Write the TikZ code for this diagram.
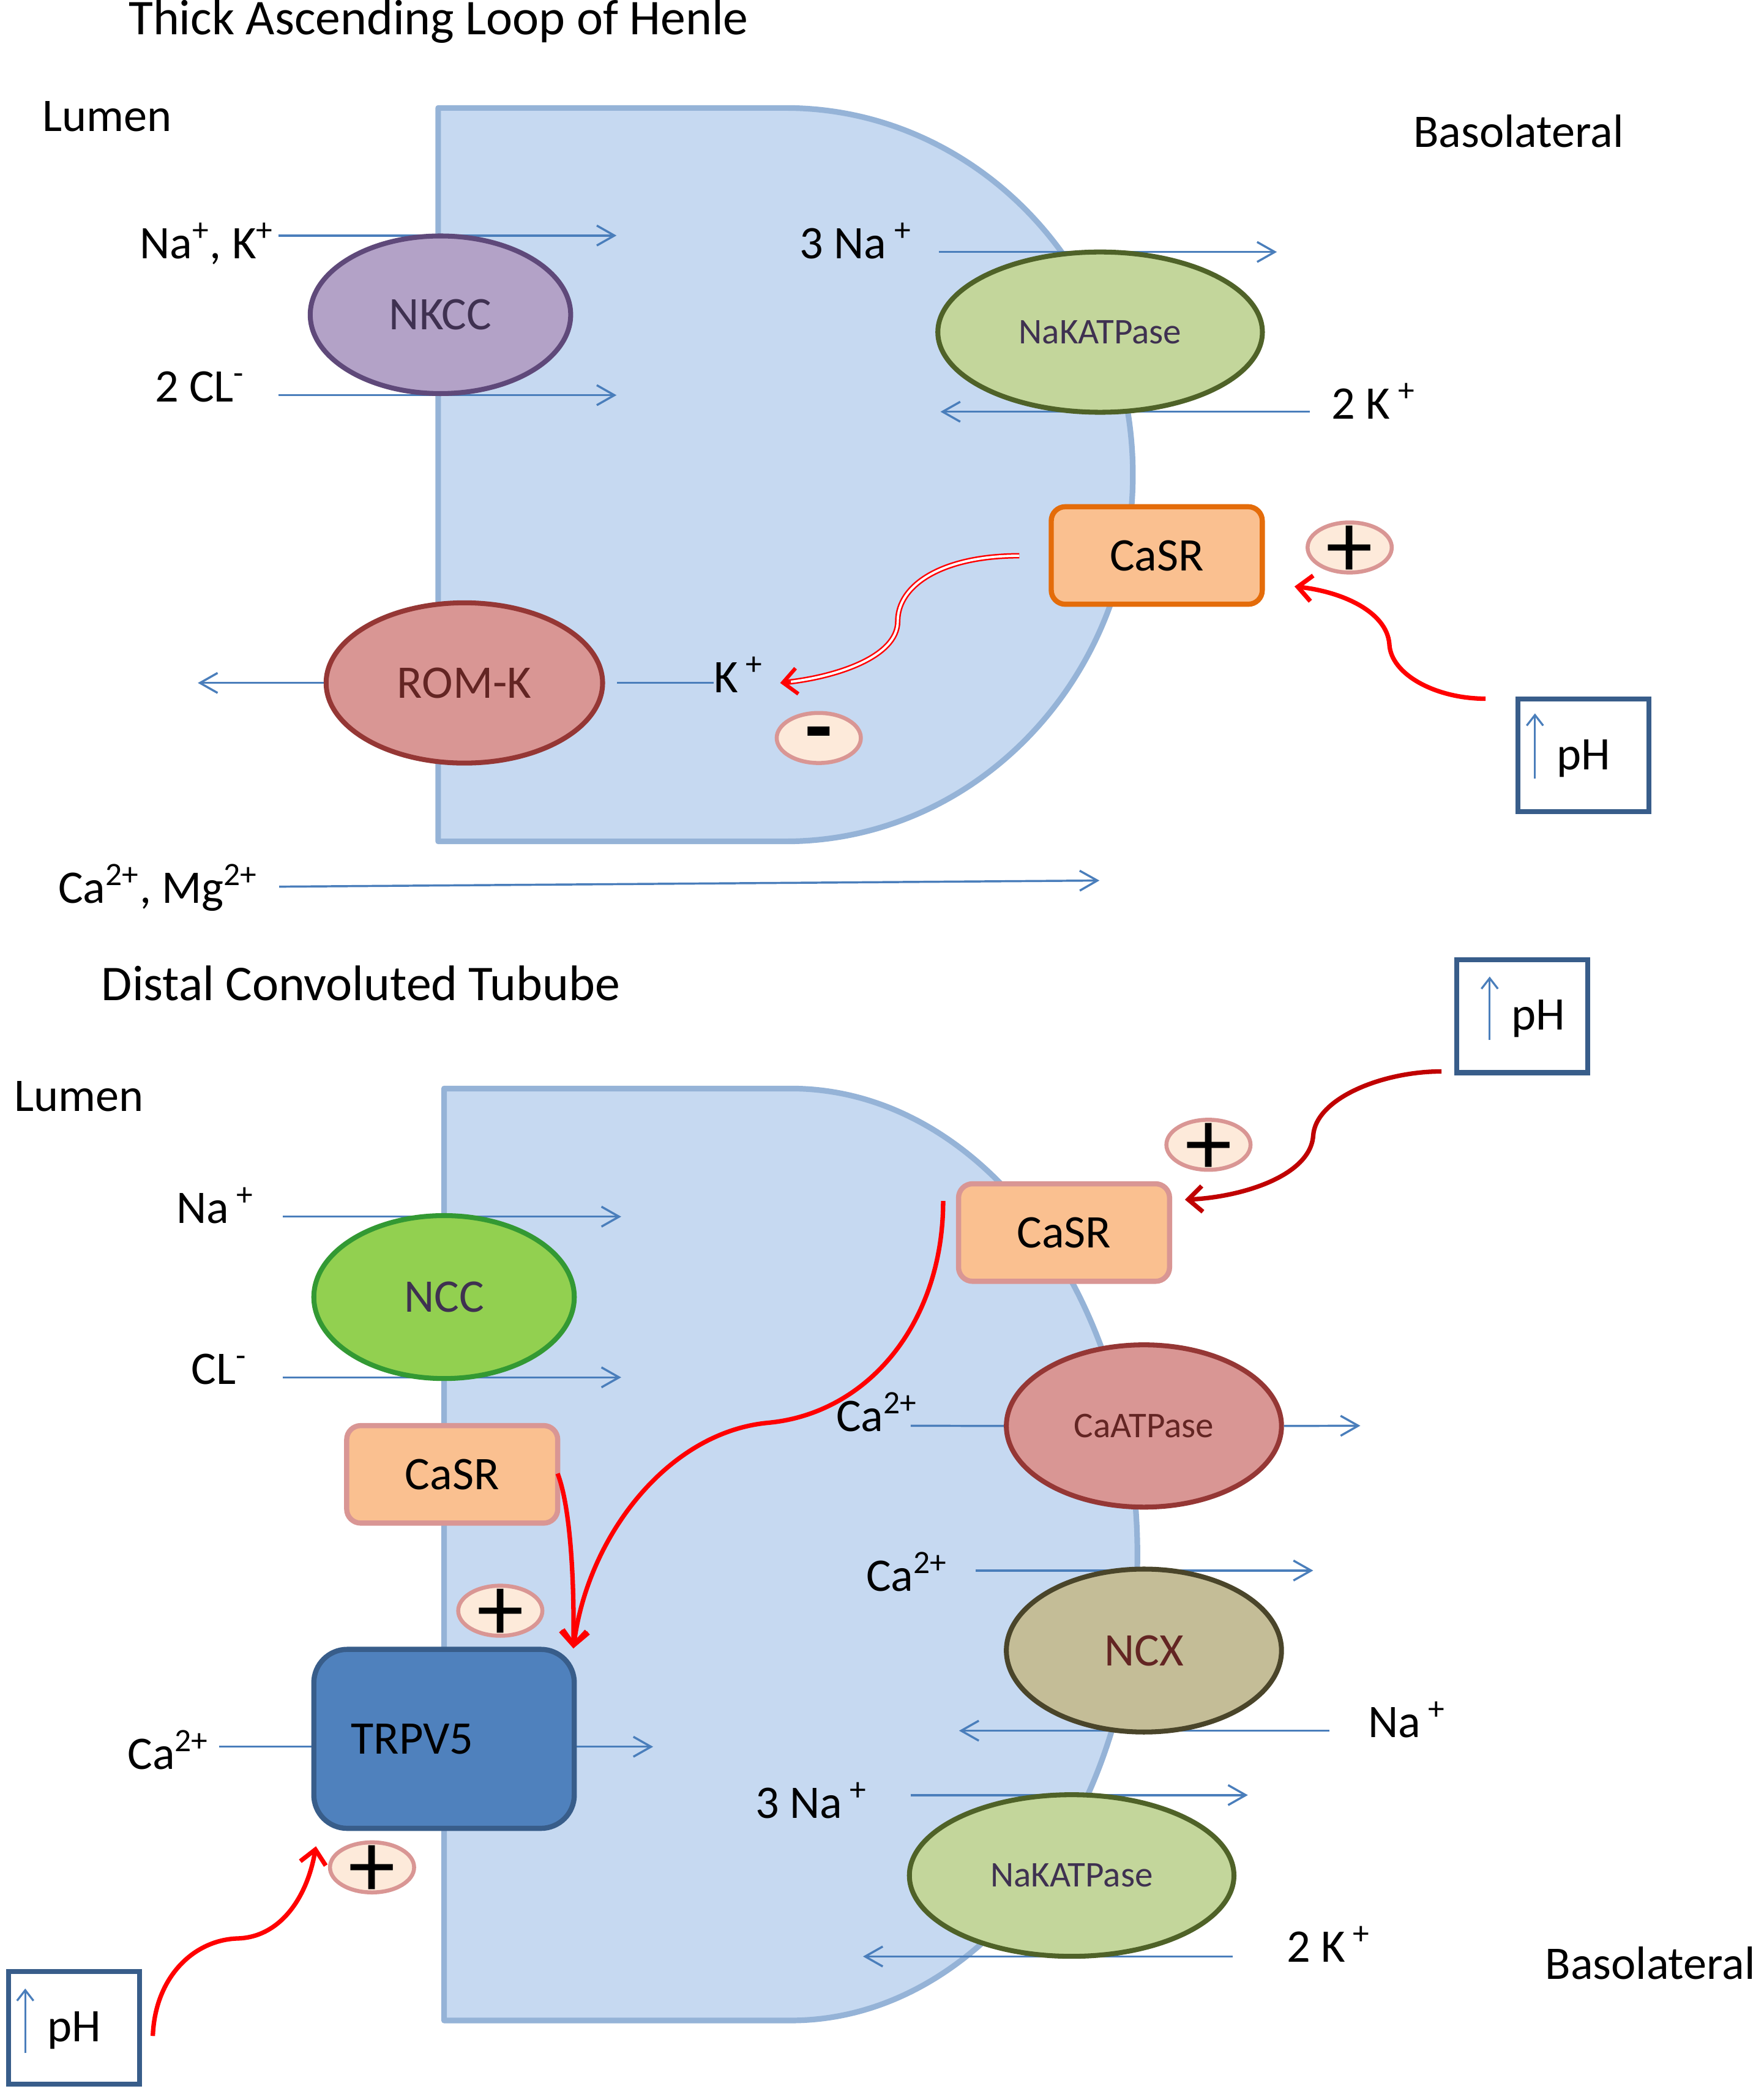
\documentclass[tikz,border=0pt]{standalone}
\usepackage{fontspec}
\setmainfont{Carlito}
\usetikzlibrary{shapes.geometric,arrows.meta}
\pgfdeclarelayer{cells}
\pgfdeclarelayer{wires}
\pgfsetlayers{cells,wires,main}
\definecolor{cellfill}{HTML}{C6D9F1}
\definecolor{celldraw}{HTML}{95B3D7}
\definecolor{wireblue}{HTML}{4A7EBB}
\definecolor{nkccfill}{HTML}{B3A2C7}
\definecolor{nkccdraw}{HTML}{5F497A}
\definecolor{nakfill}{HTML}{C3D69B}
\definecolor{nakdraw}{HTML}{4F6228}
\definecolor{romfill}{HTML}{D99694}
\definecolor{romdraw}{HTML}{953735}
\definecolor{casrfill}{HTML}{FAC090}
\definecolor{casrorange}{HTML}{E46C0A}
\definecolor{casrpink}{HTML}{D99694}
\definecolor{nccfill}{HTML}{92D050}
\definecolor{nccdraw}{HTML}{339933}
\definecolor{ncxfill}{HTML}{C4BD97}
\definecolor{ncxdraw}{HTML}{4A452A}
\definecolor{trpfill}{HTML}{4F81BD}
\definecolor{trpdraw}{HTML}{385D8A}
\definecolor{signfill}{HTML}{FDEADA}
\definecolor{signdraw}{HTML}{D99694}
\definecolor{purpletext}{HTML}{3F3151}
\definecolor{redtext}{HTML}{632523}
\definecolor{darkred}{HTML}{C00000}
\begin{document}
\begin{tikzpicture}[x=0.02cm,y=-0.02cm,
  lbl/.style={anchor=base west, inner sep=0pt, font=\fontsize{19.9}{24}\selectfont},
  ttl/.style={anchor=base west, inner sep=0pt, font=\fontsize{21.3}{26}\selectfont},
  oval/.style={ellipse, inner sep=0pt, line width=2.1pt, font=\fontsize{19.9}{24}\selectfont},
  ovalsmall/.style={oval, font=\fontsize{15.4}{18}\selectfont},
  casrbox/.style={rectangle, rounded corners=0.21cm, fill=casrfill, line width=2.2pt, inner sep=0pt,
    font=\fontsize{19.9}{24}\selectfont, minimum width=3.16cm, minimum height=1.46cm},
  signoval/.style={ellipse, inner sep=0pt, fill=signfill, draw=signdraw, line width=1.7pt,
    minimum width=1.26cm, minimum height=0.75cm},
  signtxt/.style={inner sep=0pt, font=\fontsize{40}{42}\selectfont, yshift=-0.06cm},
  minustxt/.style={inner sep=0pt, font=\fontsize{38}{40}\selectfont\bfseries, yshift=-0.06cm},
  phbox/.style={rectangle, draw=trpdraw, line width=2.1pt, fill=white, inner sep=0pt,
    minimum width=1.96cm, minimum height=1.69cm},
  wire/.style={draw=wireblue, line width=0.9pt},
  wirearrow/.style={wire, -{Straight Barb[length=7.5pt,width=8.5pt]}},
  uparrow/.style={draw=wireblue, line width=0.85pt, -{Straight Barb[length=4.5pt,width=7pt]}},
  redarrow/.style={draw=red, line width=1.9pt, -{Straight Barb[length=6pt,width=11pt]}}
]
\useasboundingbox (0,0) rectangle (1320,1569.7);

% ---------------- cells ----------------
\begin{pgfonlayer}{cells}
\fill[white] (0,0) rectangle (1320,1569.7);
\draw[fill=cellfill, draw=celldraw, line width=2.4pt, line join=round]
  (328,80.8) -- (588,80.8)
  .. controls (731.6,80.8) and (848,203.7) .. (848,355.3)
  .. controls (848,506.9) and (731.6,629.8) .. (588,629.8)
  -- (328,629.8) -- cycle;
\draw[fill=cellfill, draw=celldraw, line width=2.4pt, line join=round]
  (332.4,814.8) -- (591.9,814.8)
  .. controls (735.2,814.8) and (851.4,970.9) .. (851.4,1163.6)
  .. controls (851.4,1356.3) and (735.2,1512.4) .. (591.9,1512.4)
  -- (332.4,1512.4) -- cycle;
\end{pgfonlayer}

% ---------------- titles and labels ----------------
\node[ttl] (title1) at (96,26) {Thick Ascending Loop of Henle};
\node[lbl] (lumen1) at (31.6,98.3) {Lumen};
\node[lbl] (baso1) at (1057.7,110.3) {Basolateral};
\node[lbl] (nakl) at (104.3,193.5) {Na\textsuperscript{+}, K\textsuperscript{+}};
\node[lbl] (cll) at (115.7,300.8) {2 CL\textsuperscript{-}};
\node[lbl] (na3a) at (598.3,193.5) {3 Na\,\textsuperscript{+}};
\node[lbl] (k2a) at (996.6,313.7) {2 K\,\textsuperscript{+}};
\node[lbl] (kp) at (534,518.3) {K\,\textsuperscript{+}};
\node[lbl] (camg) at (43.3,675.9) {Ca\textsuperscript{2+}, Mg\textsuperscript{2+}};

\node[ttl] (title2) at (75.7,748.7) {Distal Convoluted Tubube};
\node[lbl] (lumen2) at (10.5,831.6) {Lumen};
\node[lbl] (nab) at (131.7,915.7) {Na\,\textsuperscript{+}};
\node[lbl] (clb) at (143,1036.1) {CL\textsuperscript{-}};
\node[lbl] (cat) at (95.1,1324.4) {Ca\textsuperscript{2+}};
\node[lbl] (caa) at (625.6,1071.4) {Ca\textsuperscript{2+}};
\node[lbl] (cax) at (648,1191) {Ca\textsuperscript{2+}};
\node[lbl] (nax) at (1023.8,1300.4) {Na\,\textsuperscript{+}};
\node[lbl] (na3b) at (565.1,1361) {3 Na\,\textsuperscript{+}};
\node[lbl] (k2b) at (962.8,1468.7) {2 K\,\textsuperscript{+}};
\node[lbl] (baso2) at (1156.3,1481.3) {Basolateral};

% ---------------- transporters ----------------
\node[oval, fill=nkccfill, draw=nkccdraw, text=purpletext, minimum width=3.9cm, minimum height=2.36cm] (nkcc) at (329.7,235.6) {NKCC};
\node[ovalsmall, fill=nakfill, draw=nakdraw, text=purpletext, minimum width=4.86cm, minimum height=2.4cm] (nak1) at (823.5,248.6) {NaKATPase};
\node[oval, fill=romfill, draw=romdraw, text=redtext, minimum width=4.14cm, minimum height=2.4cm] (rom) at (347.6,511.2) {ROM-K};
\node[casrbox, draw=casrorange] (casr1) at (865.9,415.8) {CaSR};
\node[signoval] (s1) at (1010.3,409.8) {};
\node[signtxt] (s1t) at (s1) {+};
\node[signoval] (s2) at (612.9,552.4) {};
\node[minustxt] (s2t) at (s2) {-};
\node[phbox] (ph1) at (1185.3,565.4) {};
\node[lbl] (ph1t) at (1164.8,576) {pH};

\node[oval, fill=nccfill, draw=nccdraw, text=purpletext, minimum width=3.9cm, minimum height=2.44cm] (ncc) at (332.4,970.9) {NCC};
\node[casrbox, draw=casrpink] (casr2) at (338.5,1103.6) {CaSR};
\node[signoval] (s3) at (374.5,1205.7) {};
\node[signtxt] (s3t) at (s3) {+};
\node[rectangle, rounded corners=0.5cm, fill=trpfill, draw=trpdraw, line width=2.2pt,
  inner xsep=0.56cm, inner ysep=0pt, text width=2.78cm, align=left, minimum height=2.68cm,
  font=\fontsize{19.9}{24}\selectfont] (trpv) at (332.4,1301.6) {TRPV5};
\node[signoval] (s4) at (278.5,1397.8) {};
\node[signtxt] (s4t) at (s4) {+};
\node[phbox] (ph3) at (55.3,1517.9) {};
\node[lbl] (ph3t) at (35,1528.4) {pH};

\node[phbox] (ph2) at (1139.3,760.7) {};
\node[lbl] (ph2t) at (1131.1,771) {pH};
\node[signoval] (s5) at (904.6,856.9) {};
\node[signtxt] (s5t) at (s5) {+};
\node[casrbox, draw=casrpink] (casr3) at (796.5,922.6) {CaSR};
\node[ovalsmall, fill=romfill, draw=romdraw, text=redtext, minimum width=4.12cm, minimum height=2.43cm] (caatp) at (856.3,1067.4) {CaATPase};
\node[oval, fill=ncxfill, draw=ncxdraw, text=redtext, minimum width=4.12cm, minimum height=2.44cm] (ncx) at (856.3,1235.5) {NCX};
\node[ovalsmall, fill=nakfill, draw=nakdraw, text=purpletext, minimum width=4.86cm, minimum height=2.42cm] (nak2) at (802.2,1403.9) {NaKATPase};

% ---------------- coordinates ----------------
\coordinate (w1s) at (208.3,176.3);  \coordinate (w1e) at (461.5,176.3);
\coordinate (w2s) at (208.3,295.8);  \coordinate (w2e) at (461.5,295.8);
\coordinate (w3s) at (702.7,188.6);  \coordinate (w3e) at (955.8,188.6);
\coordinate (w4s) at (980.6,308.2);  \coordinate (w4e) at (704,308.2);
\coordinate (w5e) at (148.1,511.2);
\coordinate (w6s) at (462,511.2);
\coordinate (w7s) at (209,663.7);    \coordinate (w7e) at (823,659.1);
\coordinate (w8s) at (211.6,910.7);  \coordinate (w8e) at (465,910.7);
\coordinate (w9s) at (211.6,1031);   \coordinate (w9e) at (465,1031);
\coordinate (w10s) at (164.1,1307.5); \coordinate (w10e) at (488.9,1307.5);
\coordinate (w11s) at (681.7,1067.2); \coordinate (w11e) at (1018.3,1067.2);
\coordinate (w12s) at (730.5,1175.6); \coordinate (w12e) at (983,1175.6);
\coordinate (w13s) at (995.2,1295.5); \coordinate (w13e) at (717.9,1295.5);
\coordinate (w14s) at (681.7,1343.7); \coordinate (w14e) at (934.1,1343.7);
\coordinate (w15s) at (922.8,1464.5); \coordinate (w15e) at (646,1464.5);
\coordinate (u1s) at (1149,583);   \coordinate (u1e) at (1149,534);
\coordinate (u2s) at (1115.1,778.6); \coordinate (u2e) at (1115.1,731);
\coordinate (u3s) at (18.9,1536.9); \coordinate (u3e) at (18.9,1488.5);

% ---------------- blue transport arrows ----------------
\begin{pgfonlayer}{wires}
\draw[wirearrow] (w1s) -- (w1e);
\draw[wirearrow] (w2s) -- (w2e);
\draw[wirearrow] (w3s) -- (w3e);
\draw[wirearrow] (w4s) -- (w4e);
\draw[wirearrow] (rom.west) -- (w5e);
\draw[wire] (w6s) -- (kp.west |- w6s);
\draw[wirearrow] (w7s) -- (w7e);
\draw[wirearrow] (w8s) -- (w8e);
\draw[wirearrow] (w9s) -- (w9e);
\draw[wire] (w10s) -- (trpv.west |- w10s);
\draw[wirearrow] (trpv.east |- w10e) -- (w10e);
\draw[wire] (w11s) -- (caatp.west);
\draw[wirearrow] (caatp.east) -- (w11e);
\draw[wirearrow] (w12s) -- (w12e);
\draw[wirearrow] (w13s) -- (w13e);
\draw[wirearrow] (w14s) -- (w14e);
\draw[wirearrow] (w15s) -- (w15e);
\end{pgfonlayer}
\draw[uparrow] (u1s) -- (u1e);
\draw[uparrow] (u2s) -- (u2e);
\draw[uparrow] (u3s) -- (u3e);

% ---------------- red regulation arrows ----------------
\coordinate (d1s) at (763,416);
\coordinate (d1p) at (592,510.3);
\coordinate (d1e) at (584,511.2);
\draw[red, line width=0.65pt, double=white, double distance=1pt, shorten >=2pt]
  (d1s) .. controls (705,416) and (672,438) .. (672,465)
        .. controls (672,492) and (625,507) .. (d1e);
\draw[red, line width=1.6pt, -{Straight Barb[length=6pt,width=11pt]}] (d1p) -- (d1e);

\coordinate (r1s) at (1112,523);
\coordinate (r1e) at (969,439);
\draw[redarrow] (r1s) .. controls (1075,523) and (1041,505) .. (1040,482)
  .. controls (1038,458) and (1005,443) .. (r1e);

\coordinate (r2s) at (1079,802);
\coordinate (r2e) at (887,898);
\draw[redarrow, draw=darkred] (r2s) .. controls (1035,802) and (985,822) .. (983,850)
  .. controls (981,880) and (930,896) .. (r2e);

\coordinate (r3s) at (706,899);
\coordinate (r3e) at (429.2,1233.9);
\draw[redarrow] (r3s) .. controls (706,990) and (650,1058) .. (575,1065)
  .. controls (500,1072) and (440,1150) .. (r3e);

\coordinate (r4s) at (417.4,1103);
\draw[redarrow] (r4s) .. controls (426,1125) and (430,1175) .. (r3e);

\coordinate (r5s) at (114.4,1524);
\coordinate (r5e) at (236.5,1382);
\draw[redarrow] (r5s) .. controls (116,1480) and (145,1452) .. (178,1451)
  .. controls (210,1450) and (230,1420) .. (r5e);
\end{tikzpicture}
\end{document}
